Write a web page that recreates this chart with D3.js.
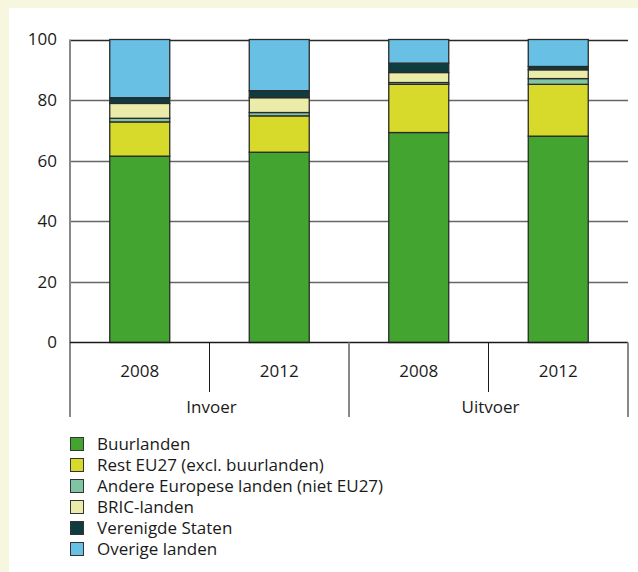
<!DOCTYPE html>
<html><head><meta charset="utf-8">
<script src="https://cdn.jsdelivr.net/npm/d3@7"></script>
<style>
html,body{margin:0;padding:0;background:#f7f6df;}
svg{display:block;}
text{font-family:"Open Sans",sans-serif;fill:#1a1a1a;}
</style></head>
<body>
<svg id="chart" width="638" height="572"></svg>
<script>
const groups = ["Invoer", "Uitvoer"];
const years = ["2008", "2012"];
const barKeys = ["Invoer 2008", "Invoer 2012", "Uitvoer 2008", "Uitvoer 2012"];
const seriesNames = ["Buurlanden", "Rest EU27 (excl. buurlanden)", "Andere Europese landen (niet EU27)", "BRIC-landen", "Verenigde Staten", "Overige landen"];
const seriesColors = ["#43a52f", "#d7d92b", "#80c5a3", "#ececaa", "#0e3c3f", "#68c1e4"];
const buurlanden = [61.5, 62.8, 69.3, 68.1];
const restEU27 = [11.3, 12.0, 15.9, 17.1];
const andereEuropese = [1.2, 1.1, 0.6, 1.9];
const bric = [4.9, 4.9, 3.3, 2.9];
const verenigdeStaten = [1.9, 2.3, 3.1, 1.1];
const overige = [19.2, 16.9, 7.8, 8.9];
const yTicks = [0, 20, 40, 60, 80, 100];

const seriesValues = [buurlanden, restEU27, andereEuropese, bric, verenigdeStaten, overige];
const table = barKeys.map((k, i) => {
  const row = {key: k};
  seriesNames.forEach((s, j) => row[s] = seriesValues[j][i]);
  return row;
});

const FS = 17;
const svg = d3.select("#chart");
svg.append("rect").attr("x", 9).attr("y", 8).attr("width", 629).attr("height", 564).attr("fill", "#ffffff");

const pLeft = 70, pRight = 628, pTop = 39.5, pBottom = 342.5;
const x = d3.scaleBand().domain(barKeys).range([pLeft, pRight]).paddingInner(0.57).paddingOuter(0.285);
const y = d3.scaleLinear().domain([0, 100]).range([pBottom, pTop]);

// gridlines
svg.append("g").selectAll("line").data(yTicks.filter(t => t > 0)).join("line")
  .attr("x1", pLeft).attr("x2", pRight)
  .attr("y1", d => Math.round(y(d)) + 0.5).attr("y2", d => Math.round(y(d)) + 0.5)
  .attr("stroke", d => d === 100 ? "#2a2a2a" : "#666").attr("stroke-width", d => d === 100 ? 1.3 : 1.4);

// stacks
const stack = d3.stack().keys(seriesNames)(table);
svg.append("g").selectAll("g").data(stack).join("g")
  .attr("fill", (d, i) => seriesColors[i])
  .selectAll("rect").data(d => d).join("rect")
  .attr("x", d => x(d.data.key))
  .attr("width", x.bandwidth())
  .attr("y", d => y(d[1]))
  .attr("height", d => y(d[0]) - y(d[1]))
  .attr("stroke", "#2a2a2a").attr("stroke-width", 1.3);

// y axis
const yAxis = d3.axisLeft(y).tickValues(yTicks).tickSize(0).tickPadding(13);
const ya = svg.append("g").attr("transform", `translate(${pLeft},0)`).call(yAxis);
ya.select(".domain").remove();
ya.selectAll("text").attr("font-size", FS).attr("font-family", "Open Sans, sans-serif").attr("fill", "#1a1a1a");
svg.append("line").attr("x1", pLeft).attr("x2", pLeft).attr("y1", pTop).attr("y2", 417)
  .attr("stroke", "#888").attr("stroke-width", 2);

// baseline
svg.append("line").attr("x1", pLeft).attr("x2", pRight).attr("y1", pBottom).attr("y2", pBottom)
  .attr("stroke", "#1a1a1a").attr("stroke-width", 1.5);

// category axis
const groupScale = d3.scaleBand().domain(groups).range([pLeft, pRight]);
groups.forEach(g => {
  const mid = groupScale(g) + groupScale.bandwidth() / 2;
  svg.append("line").attr("x1", mid).attr("x2", mid).attr("y1", pBottom).attr("y2", 392)
    .attr("stroke", "#1a1a1a").attr("stroke-width", 1);
  svg.append("text").attr("x", mid + 2).attr("y", 413).attr("text-anchor", "middle")
    .attr("font-size", FS).text(g);
});
[groupScale("Uitvoer"), pRight].forEach(xx => {
  svg.append("line").attr("x1", xx).attr("x2", xx).attr("y1", pBottom).attr("y2", 417)
    .attr("stroke", "#888").attr("stroke-width", 2);
});
table.forEach((d, i) => {
  svg.append("text").attr("x", x(d.key) + x.bandwidth() / 2).attr("y", 377)
    .attr("text-anchor", "middle").attr("font-size", FS).text(years[i % 2]);
});

// legend
const lg = svg.append("g");
seriesNames.forEach((s, i) => {
  const yy = 444 + i * 21;
  lg.append("rect").attr("x", 70.5).attr("y", yy - 6.5).attr("width", 13).attr("height", 13)
    .attr("fill", seriesColors[i]).attr("stroke", "#333").attr("stroke-width", 1);
  lg.append("text").attr("x", 97).attr("y", yy + 6).attr("font-size", FS).text(s);
});
</script>
</body></html>
